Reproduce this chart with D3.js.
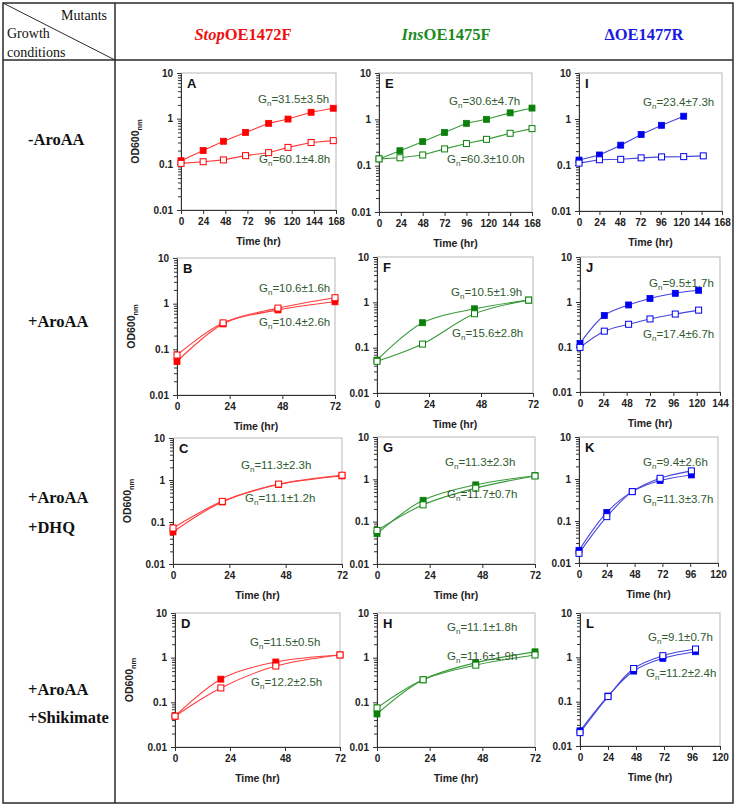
<!DOCTYPE html>
<html>
<head>
<meta charset="utf-8">
<script src="https://cdn.jsdelivr.net/npm/d3@7"></script>
<style>
  body { margin: 0; background: #fff; }
  svg text { font-family: "Liberation Sans", Arial, sans-serif; }
  .serif { font-family: "Liberation Serif", "Times New Roman", serif !important; }
  .tick text { font-size: 10px; font-weight: bold; fill: #222; }
  .domain, .tick line { stroke: #333; }
</style>
</head>
<body>
<svg id="fig" width="739" height="809"></svg>
<script>
// #region Data (OD600 readings, filled = mutant, open = control)
const timeA = [0, 24, 46, 70, 95, 116, 141, 165];
const aFilled = [0.12, 0.2, 0.32, 0.5, 0.79, 0.98, 1.38, 1.69];
const aOpen = [0.105, 0.114, 0.125, 0.155, 0.18, 0.235, 0.3, 0.33];

const timeE = [0, 23, 48, 72, 96, 118, 144, 168];
const eFilled = [0.14, 0.21, 0.33, 0.52, 0.82, 1.0, 1.38, 1.75];
const eOpen = [0.14, 0.148, 0.17, 0.23, 0.3, 0.37, 0.5, 0.63];

const timeI = [0, 24, 49, 73, 97, 123];
const iFilled = [0.128, 0.165, 0.27, 0.46, 0.73, 1.15];
const timeIOpen = [0, 24, 49, 73, 97, 123, 146];
const iOpen = [0.11, 0.13, 0.133, 0.143, 0.15, 0.152, 0.158];

const timeB = [0, 21, 46, 72];
const bFilled = [0.054, 0.36, 0.73, 1.1];
const bOpen = [0.075, 0.38, 0.8, 1.35];

const timeF = [0, 21, 45, 70];
const fFilled = [0.053, 0.355, 0.72, 1.12];
const fOpen = [0.05, 0.12, 0.56, 1.12];

const timeJ = [0, 25, 50, 72, 98, 122];
const jFilled = [0.12, 0.5, 0.86, 1.2, 1.56, 1.82];
const jOpen = [0.098, 0.225, 0.32, 0.42, 0.54, 0.66];

const timeC = [0, 21, 45, 72];
const cFilled = [0.058, 0.3, 0.78, 1.25];
const cOpen = [0.072, 0.31, 0.8, 1.3];

const timeG = [0, 21, 45, 72];
const gFilled = [0.052, 0.32, 0.74, 1.22];
const gOpen = [0.062, 0.25, 0.62, 1.2];

const timeK = [0, 24, 46, 70, 97];
const kFilled = [0.02, 0.16, 0.5, 0.92, 1.25];
const kOpen = [0.017, 0.127, 0.5, 1.04, 1.56];

const timeD = [0, 20, 44, 72];
const dFilled = [0.049, 0.33, 0.8, 1.15];
const dOpen = [0.049, 0.21, 0.65, 1.15];

const timeH = [0, 21, 45, 72];
const hFilled = [0.055, 0.32, 0.77, 1.35];
const hOpen = [0.075, 0.32, 0.68, 1.15];

const timeL = [0, 24, 46, 71, 99];
const lFilled = [0.022, 0.134, 0.49, 0.95, 1.34];
const lOpen = [0.02, 0.13, 0.56, 1.09, 1.54];

const yTicks = [0.01, 0.1, 1, 10];
const mutantItalic = ["Stop", "Ins", ""];
const mutantRest = ["OE1472F", "OE1475F", "\u0394OE1477R"];
const conditions = [["-AroAA"], ["+AroAA"], ["+AroAA", "+DHQ"], ["+AroAA", "+Shikimate"]];
const gnTop = ["31.5\u00b13.5h", "30.6\u00b14.7h", "23.4\u00b17.3h",
  "10.6\u00b11.6h", "10.5\u00b11.9h", "9.5\u00b11.7h",
  "11.3\u00b12.3h", "11.3\u00b12.3h", "9.4\u00b12.6h",
  "11.5\u00b10.5h", "11.1\u00b11.8h", "9.1\u00b10.7h"];
const gnBottom = ["60.1\u00b14.8h", "60.3\u00b110.0h", null,
  "10.4\u00b12.6h", "15.6\u00b12.8h", "17.4\u00b16.7h",
  "11.1\u00b11.2h", "11.7\u00b10.7h", "11.3\u00b13.7h",
  "12.2\u00b12.5h", "11.6\u00b11.9h", "11.2\u00b12.4h"];
// #endregion

const colors = [
  { mark: "#ff0000", line: "#ff3b3b" },
  { mark: "#0b800b", line: "#3a9a3a" },
  { mark: "#0000f0", line: "#4444dd" },
];
const headerColors = ["#ee1111", "#1c8a1c", "#1a1ae0"];
const gnColor = "#2f5a2f";

// panel boxes, in page pixels
const panels = [
  { id: "A", col: 0, l: 181, r: 336, t: 73, b: 210, xMax: 168, step: 24, smooth: false, ylab: true,
    filled: [timeA, aFilled], open: [timeA, aOpen], gn: [[258, 99], [259, 159]] },
  { id: "E", col: 1, l: 379, r: 532, t: 73, b: 212, xMax: 168, step: 24, smooth: false,
    filled: [timeE, eFilled], open: [timeE, eOpen], gn: [[449, 101], [447, 159]] },
  { id: "I", col: 2, l: 579, r: 722, t: 73, b: 211, xMax: 168, step: 24, smooth: false,
    filled: [timeI, iFilled], open: [timeIOpen, iOpen], gn: [[643, 102], null] },
  { id: "B", col: 0, l: 177, r: 335, t: 258, b: 395, xMax: 72, step: 24, smooth: true, ylab: true,
    filled: [timeB, bFilled], open: [timeB, bOpen], gn: [[259, 288], [259, 322]] },
  { id: "F", col: 1, l: 377, r: 533, t: 257, b: 393, xMax: 72, step: 24, smooth: true,
    filled: [timeF, fFilled], open: [timeF, fOpen], gn: [[451, 292], [452, 333]] },
  { id: "J", col: 2, l: 580, r: 720, t: 257, b: 392, xMax: 144, step: 24, smooth: true,
    filled: [timeJ, jFilled], open: [timeJ, jOpen], gn: [[649, 283], [643, 334]] },
  { id: "C", col: 0, l: 173, r: 342, t: 438, b: 564, xMax: 72, step: 24, smooth: true, ylab: true,
    filled: [timeC, cFilled], open: [timeC, cOpen], gn: [[241, 465], [245, 498]] },
  { id: "G", col: 1, l: 377, r: 535, t: 437, b: 564, xMax: 72, step: 24, smooth: true,
    filled: [timeG, gFilled], open: [timeG, gOpen], gn: [[445, 462], [447, 494]] },
  { id: "K", col: 2, l: 579, r: 718, t: 437, b: 563, xMax: 120, step: 24, smooth: true,
    filled: [timeK, kFilled], open: [timeK, kOpen], gn: [[643, 462], [643, 499]] },
  { id: "D", col: 0, l: 175, r: 340, t: 613, b: 747, xMax: 72, step: 24, smooth: true, ylab: true,
    filled: [timeD, dFilled], open: [timeD, dOpen], gn: [[250, 642], [251, 682]] },
  { id: "H", col: 1, l: 377, r: 535, t: 613, b: 747, xMax: 72, step: 24, smooth: true,
    filled: [timeH, hFilled], open: [timeH, hOpen], gn: [[447, 627], [447, 656]] },
  { id: "L", col: 2, l: 580, r: 720, t: 613, b: 746, xMax: 120, step: 24, smooth: true,
    filled: [timeL, lFilled], open: [timeL, lOpen], gn: [[648, 637], [646, 673]] },
];

const svg = d3.select("#fig");

// #region Table frame and headers
function drawTable() {
  const lineCol = "#2a2a2a";
  svg.append("rect")
    .attr("x", 3).attr("y", 3).attr("width", 730).attr("height", 800)
    .attr("fill", "none").attr("stroke", lineCol).attr("stroke-width", 1.5);
  svg.append("line").attr("x1", 3).attr("x2", 733).attr("y1", 60).attr("y2", 60)
    .attr("stroke", lineCol).attr("stroke-width", 1.5);
  svg.append("line").attr("x1", 115).attr("x2", 115).attr("y1", 3).attr("y2", 803)
    .attr("stroke", lineCol).attr("stroke-width", 1.5);
  svg.append("line").attr("x1", 3).attr("y1", 3).attr("x2", 115).attr("y2", 60)
    .attr("stroke", lineCol).attr("stroke-width", 1);

  const hdr = svg.append("g").attr("font-size", 14).attr("fill", "#111");
  hdr.append("text").attr("class", "serif").attr("x", 107).attr("y", 20).attr("text-anchor", "end").text("Mutants");
  hdr.append("text").attr("class", "serif").attr("x", 7).attr("y", 38).text("Growth");
  hdr.append("text").attr("class", "serif").attr("x", 7).attr("y", 57).text("conditions");

  const colX = [243, 446, 644];
  colX.forEach((cx, i) => {
    const t = svg.append("text").attr("class", "serif")
      .attr("x", cx).attr("y", 40).attr("text-anchor", "middle")
      .attr("font-size", 16.5).attr("font-weight", "bold").attr("fill", headerColors[i]);
    if (mutantItalic[i]) t.append("tspan").attr("font-style", "italic").text(mutantItalic[i]);
    t.append("tspan").text(mutantRest[i]);
  });

  const rowY = [[145], [327], [503, 533], [695, 723]];
  conditions.forEach((lines, i) => {
    lines.forEach((s, j) => {
      svg.append("text").attr("class", "serif")
        .attr("x", 28).attr("y", rowY[i][j])
        .attr("font-size", 16.5).attr("font-weight", "bold").attr("fill", "#111")
        .text(s);
    });
  });
}
// #endregion

// #region Growth curve panel
function drawPanel(p, idx) {
  const x = d3.scaleLinear().domain([0, p.xMax]).range([p.l, p.r]);
  const y = d3.scaleLog().domain([0.01, 10]).range([p.b, p.t]);
  const g = svg.append("g");
  const c = colors[p.col];

  g.append("rect")
    .attr("x", p.l).attr("y", p.t).attr("width", p.r - p.l).attr("height", p.b - p.t)
    .attr("fill", "none").attr("stroke", "#c4c4c4").attr("stroke-width", 1.2);

  const minor = [];
  [0.01, 0.1, 1].forEach((d) => d3.range(2, 10).forEach((k) => minor.push(d * k)));
  g.append("g")
    .attr("transform", `translate(${p.l},0)`)
    .call(d3.axisLeft(y).tickValues(minor).tickSize(3).tickSizeOuter(0).tickFormat(""))
    .call((a) => a.select(".domain").remove());
  g.append("g")
    .attr("transform", `translate(${p.l},0)`)
    .call(d3.axisLeft(y).tickValues(yTicks).tickSize(4).tickSizeOuter(0).tickPadding(4)
      .tickFormat((d) => d3.format("~g")(d)));
  g.append("g")
    .attr("transform", `translate(0,${p.b})`)
    .call(d3.axisBottom(x).tickValues(d3.range(0, p.xMax + 1, p.step))
      .tickSize(4).tickSizeOuter(0).tickPadding(4));

  g.append("text")
    .attr("x", (p.l + p.r) / 2).attr("y", p.b + 35)
    .attr("text-anchor", "middle").attr("font-size", 10.5).attr("font-weight", "bold").attr("fill", "#222")
    .text("Time (hr)");

  if (p.ylab) {
    const t = g.append("text")
      .attr("transform", `translate(${p.l - 42},${(p.t + p.b) / 2}) rotate(-90)`)
      .attr("text-anchor", "middle").attr("font-size", 10.5).attr("font-weight", "bold").attr("fill", "#222");
    t.append("tspan").text("OD600");
    t.append("tspan").attr("font-size", 7.5).attr("dy", 3).text("nm");
  }

  g.append("text")
    .attr("x", p.l + 6).attr("y", p.t + 15)
    .attr("font-size", 13).attr("font-weight", "bold").attr("fill", "#111")
    .text(p.id);

  const line = d3.line()
    .x((d) => x(d[0]))
    .y((d) => y(d[1]))
    .curve(p.smooth ? d3.curveCatmullRom : d3.curveLinear);

  const toPts = (s) => s[0].map((t, i) => [t, s[1][i]]);
  const filledPts = toPts(p.filled);
  const openPts = toPts(p.open);

  [filledPts, openPts].forEach((pts) => {
    g.append("path").datum(pts)
      .attr("d", line).attr("fill", "none")
      .attr("stroke", c.line).attr("stroke-width", 1.1);
  });

  const sz = 6;
  g.selectAll(null).data(filledPts).enter().append("rect")
    .attr("x", (d) => x(d[0]) - sz / 2).attr("y", (d) => y(d[1]) - sz / 2)
    .attr("width", sz).attr("height", sz)
    .attr("fill", c.mark).attr("stroke", c.mark).attr("stroke-width", 0.8);
  g.selectAll(null).data(openPts).enter().append("rect")
    .attr("x", (d) => x(d[0]) - sz / 2).attr("y", (d) => y(d[1]) - sz / 2)
    .attr("width", sz).attr("height", sz)
    .attr("fill", "#fff").attr("stroke", c.mark).attr("stroke-width", 1);

  [gnTop[idx], gnBottom[idx]].forEach((lab, k) => {
    if (!lab || !p.gn[k]) return;
    const t = g.append("text")
      .attr("x", p.gn[k][0]).attr("y", p.gn[k][1] + 4)
      .attr("font-size", 11.5).attr("fill", gnColor);
    t.append("tspan").text("G");
    t.append("tspan").attr("font-size", 8).attr("dy", 3).text("n");
    t.append("tspan").attr("dy", -3).text("=" + lab);
  });
}
// #endregion

drawTable();
panels.forEach((p) => {
  const order = "AEIBFJCGKDHL".indexOf(p.id);
  drawPanel(p, order);
});
</script>
</body>
</html>
